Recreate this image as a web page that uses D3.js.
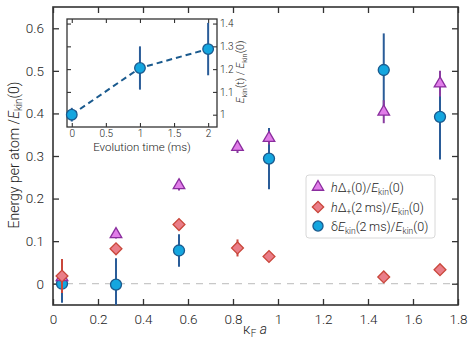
<!DOCTYPE html>
<html>
<head>
<meta charset="utf-8">
<script src="https://cdn.jsdelivr.net/npm/d3@7"></script>
<style>
  body { margin: 0; background: #fff; }
  text { font-family: Roboto, "Liberation Sans", sans-serif; font-weight: 300; fill: #222; }
</style>
</head>
<body>
<svg class="chart"></svg>
<script>
// main panel data, kF a on x
var kfa = [0.04, 0.28, 0.56, 0.82, 0.96, 1.47, 1.72];
var gap0 = [0.015, 0.116, 0.231, 0.321, 0.342, 0.404, 0.47];
var gap0Err = [0.01, 0.01, 0.012, 0.014, 0.015, 0.027, 0.03];
var gap2 = [0.018, 0.082, 0.139, 0.084, 0.064, 0.016, 0.033];
var gap2Err = [0.04, 0.01, 0.01, 0.02, 0.008, 0.008, 0.008];
var dEkin = [0.0, -0.002, 0.078, null, 0.294, 0.502, 0.392];
var dEkinErr = [0.045, 0.062, 0.038, null, 0.072, 0.086, 0.1];

// inset data
var tEvo = [0, 1, 2];
var ekinRatio = [1.0, 1.205, 1.288];
var ekinRatioErr = [0.03, 0.095, 0.115];

var xTicks = [0, 0.2, 0.4, 0.6, 0.8, 1, 1.2, 1.4, 1.6, 1.8];
var yTicks = [0, 0.1, 0.2, 0.3, 0.4, 0.5, 0.6];
var insetXTicks = [0, 0.5, 1, 1.5, 2];
var insetYTicks = [1, 1.1, 1.2, 1.3, 1.4];

var width = 469, height = 345;
var svg = d3.select(".chart").attr("width", width).attr("height", height);

var m = {left: 53, right: 458, top: 7, bottom: 305};
var x = d3.scaleLinear().domain([0, 1.8]).range([m.left, m.right]);
var y = d3.scaleLinear().domain([-0.05, 0.65]).range([m.bottom, m.top]);

var fmt = function(d) { return d === 0 ? "0" : d3.format("")(d); };

// zero line
svg.append("line")
  .attr("x1", x(0)).attr("x2", x(1.8))
  .attr("y1", y(0)).attr("y2", y(0))
  .attr("stroke", "#c8c8c8").attr("stroke-width", 1.3)
  .attr("stroke-dasharray", "7,6");

// axes, ticks inward on all four sides
var axB = svg.append("g").attr("transform", "translate(0," + m.bottom + ")")
  .call(d3.axisBottom(x).tickValues(xTicks).tickFormat(fmt).tickSizeInner(-6).tickSizeOuter(0).tickPadding(9));
var axT = svg.append("g").attr("transform", "translate(0," + m.top + ")")
  .call(d3.axisTop(x).tickValues(xTicks).tickFormat("").tickSizeInner(-6).tickSizeOuter(0));
var axL = svg.append("g").attr("transform", "translate(" + m.left + ",0)")
  .call(d3.axisLeft(y).tickValues(yTicks).tickFormat(fmt).tickSizeInner(-6).tickSizeOuter(0).tickPadding(9));
var axR = svg.append("g").attr("transform", "translate(" + m.right + ",0)")
  .call(d3.axisRight(y).tickValues(yTicks).tickFormat("").tickSizeInner(-6).tickSizeOuter(0));
[axB, axT, axL, axR].forEach(function(a) {
  a.select(".domain").remove();
  a.selectAll(".tick line").attr("stroke", "#333").attr("stroke-width", 1.3);
  a.selectAll("text").style("font-size", "13.5px").attr("fill", "#333");
});
svg.append("rect")
  .attr("x", m.left).attr("y", m.top)
  .attr("width", m.right - m.left).attr("height", m.bottom - m.top)
  .attr("fill", "none").attr("stroke", "#333").attr("stroke-width", 1.6);

// axis labels
var yl = svg.append("text")
  .attr("transform", "translate(19,155) rotate(-90)")
  .attr("text-anchor", "middle").style("font-size", "14px");
yl.append("tspan").text("Energy per atom /");
yl.append("tspan").style("font-style", "italic").text("E");
yl.append("tspan").attr("dy", 3).style("font-size", "10px").text("kin");
yl.append("tspan").attr("dy", -3).text("(0)");

var xl = svg.append("text")
  .attr("x", 255).attr("y", 334).attr("text-anchor", "middle").style("font-size", "14px");
xl.append("tspan").text("κ");
xl.append("tspan").attr("dy", 3).style("font-size", "10px").text("F");
xl.append("tspan").attr("dy", -3).style("font-style", "italic").text(" a");

// styles
var cTri = {fill: "#e17de9", stroke: "#8a2d9e", err: "#8a3da0"};
var cDia = {fill: "#ea7d88", stroke: "#c9473b", err: "#c9473b"};
var cCir = {fill: "#14a6df", stroke: "#1a5a8e", err: "#2a5c98"};

function errBars(xs, ys, es, c) {
  svg.append("g").selectAll("line")
    .data(xs.map(function(d, i) { return {x: d, y: ys[i], e: es[i]}; }).filter(function(d) { return d.y !== null; }))
    .join("line")
    .attr("x1", function(d) { return x(d.x); }).attr("x2", function(d) { return x(d.x); })
    .attr("y1", function(d) { return Math.min(m.bottom, y(d.y - d.e)); })
    .attr("y2", function(d) { return y(d.y + d.e); })
    .attr("stroke", c.err).attr("stroke-width", 2);
}
function markers(xs, ys, shape, size, c) {
  svg.append("g").selectAll("path")
    .data(xs.map(function(d, i) { return {x: d, y: ys[i]}; }).filter(function(d) { return d.y !== null; }))
    .join("path")
    .attr("transform", function(d) { return "translate(" + x(d.x) + "," + y(d.y) + ")" + (shape === d3.symbolSquare ? " rotate(45)" : ""); })
    .attr("d", d3.symbol().type(shape).size(size))
    .attr("fill", c.fill).attr("stroke", c.stroke).attr("stroke-width", 1.3);
}

errBars(kfa, dEkin, dEkinErr, cCir);
markers(kfa, dEkin, d3.symbolCircle, 95, cCir);
errBars(kfa, gap0, gap0Err, cTri);
markers(kfa, gap0, d3.symbolTriangle, 58, cTri);
errBars(kfa, gap2, gap2Err, cDia);
markers(kfa, gap2, d3.symbolSquare, 70, cDia);

// legend
var lg = svg.append("g");
lg.append("rect").attr("x", 306).attr("y", 175).attr("width", 129).attr("height", 63)
  .attr("rx", 3).attr("fill", "#fff").attr("stroke", "#d8d8d8");
var lgItems = [
  {c: cTri, shape: d3.symbolTriangle, size: 55, y: 187, parts: [["h", "i"], ["Δ", ""], ["+", "sub"], ["(0)/", ""], ["E", "i"], ["kin", "sub"], ["(0)", ""]]},
  {c: cDia, shape: d3.symbolSquare, size: 65, y: 207, parts: [["h", "i"], ["Δ", ""], ["+", "sub"], ["(2\u2009ms)/", ""], ["E", "i"], ["kin", "sub"], ["(0)", ""]]},
  {c: cCir, shape: d3.symbolCircle, size: 80, y: 226, parts: [["δ", ""], ["E", "i"], ["kin", "sub"], ["(2\u2009ms)/", ""], ["E", "i"], ["kin", "sub"], ["(0)", ""]]}
];
lgItems.forEach(function(it) {
  lg.append("path")
    .attr("transform", "translate(318," + it.y + ")" + (it.shape === d3.symbolSquare ? " rotate(45)" : ""))
    .attr("d", d3.symbol().type(it.shape).size(it.size))
    .attr("fill", it.c.fill).attr("stroke", it.c.stroke).attr("stroke-width", 1.3);
  var t = lg.append("text").attr("x", 331).attr("y", it.y + 4.5).style("font-size", "12.5px");
  var sub = false;
  it.parts.forEach(function(p) {
    var s = t.append("tspan").text(p[0]);
    if (p[1] === "i") s.style("font-style", "italic");
    if (p[1] === "sub") { s.attr("dy", 3).style("font-size", "8.5px"); sub = true; }
    else if (sub) { s.attr("dy", -3); sub = false; }
  });
});

// inset
var im = {left: 67, right: 217, top: 19, bottom: 127};
var ix = d3.scaleLinear().domain([-0.07, 2.13]).range([im.left, im.right]);
var iy = d3.scaleLinear().domain([0.946, 1.42]).range([im.bottom, im.top]);
var ig = svg.append("g");
ig.append("rect").attr("x", im.left).attr("y", im.top)
  .attr("width", im.right - im.left).attr("height", im.bottom - im.top)
  .attr("fill", "#fff");
var iB = ig.append("g").attr("transform", "translate(0," + im.bottom + ")")
  .call(d3.axisBottom(ix).tickValues(insetXTicks).tickFormat(fmt).tickSizeInner(-4).tickSizeOuter(0).tickPadding(3));
var iT = ig.append("g").attr("transform", "translate(0," + im.top + ")")
  .call(d3.axisTop(ix).tickValues(insetXTicks).tickFormat("").tickSizeInner(-4).tickSizeOuter(0));
var iR = ig.append("g").attr("transform", "translate(" + im.right + ",0)")
  .call(d3.axisRight(iy).tickValues(insetYTicks).tickFormat(fmt).tickSizeInner(-4).tickSizeOuter(0).tickPadding(3));
var iL = ig.append("g").attr("transform", "translate(" + im.left + ",0)")
  .call(d3.axisLeft(iy).tickValues(insetYTicks).tickFormat("").tickSizeInner(-4).tickSizeOuter(0));
[iB, iT, iR, iL].forEach(function(a) {
  a.select(".domain").remove();
  a.selectAll(".tick line").attr("stroke", "#333").attr("stroke-width", 1.1);
  a.selectAll("text").style("font-size", "10px").attr("fill", "#333");
});
ig.append("rect").attr("x", im.left).attr("y", im.top)
  .attr("width", im.right - im.left).attr("height", im.bottom - im.top)
  .attr("fill", "none").attr("stroke", "#333").attr("stroke-width", 1.3);

ig.append("path")
  .datum(tEvo.map(function(d, i) { return [d, ekinRatio[i]]; }))
  .attr("d", d3.line().x(function(d) { return ix(d[0]); }).y(function(d) { return iy(d[1]); }))
  .attr("fill", "none").attr("stroke", "#1a5a8e").attr("stroke-width", 2)
  .attr("stroke-dasharray", "6,4");
ig.append("g").selectAll("line")
  .data(tEvo.map(function(d, i) { return {x: d, y: ekinRatio[i], e: ekinRatioErr[i]}; }))
  .join("line")
  .attr("x1", function(d) { return ix(d.x); }).attr("x2", function(d) { return ix(d.x); })
  .attr("y1", function(d) { return Math.min(im.bottom, iy(d.y - d.e)); })
  .attr("y2", function(d) { return iy(d.y + d.e); })
  .attr("stroke", cCir.err).attr("stroke-width", 2);
ig.append("g").selectAll("circle")
  .data(tEvo.map(function(d, i) { return {x: d, y: ekinRatio[i]}; }))
  .join("circle")
  .attr("cx", function(d) { return ix(d.x); }).attr("cy", function(d) { return iy(d.y); })
  .attr("r", 5.3).attr("fill", cCir.fill).attr("stroke", cCir.stroke).attr("stroke-width", 1.3);

ig.append("text").attr("x", 142).attr("y", 151).attr("text-anchor", "middle")
  .style("font-size", "11.5px").text("Evolution time (ms)");
var ir = ig.append("text").attr("transform", "translate(244,72) rotate(-90)")
  .attr("text-anchor", "middle").style("font-size", "10.5px");
ir.append("tspan").style("font-style", "italic").text("E");
ir.append("tspan").attr("dy", 2.5).style("font-size", "7.5px").text("kin");
ir.append("tspan").attr("dy", -2.5).text("(t) / ");
ir.append("tspan").style("font-style", "italic").text("E");
ir.append("tspan").attr("dy", 2.5).style("font-size", "7.5px").text("kin");
ir.append("tspan").attr("dy", -2.5).text("(0)");
</script>
</body>
</html>
